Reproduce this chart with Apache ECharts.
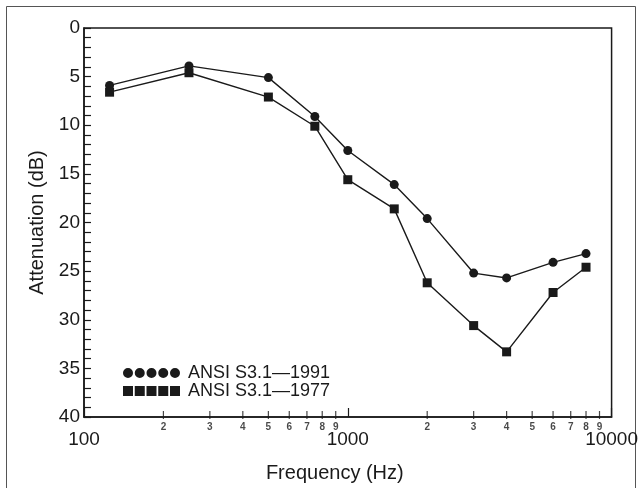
<!DOCTYPE html>
<html>
<head>
<meta charset="utf-8">
<script src="https://cdn.jsdelivr.net/npm/echarts@6/dist/echarts.min.js"></script>
<style>
html,body{margin:0;padding:0;background:#fff;}
#chart{width:641px;height:488px;}
</style>
</head>
<body>
<div id="chart"></div>
<script>
// Frequencies (Hz)
var frequencies = [125, 250, 500, 750, 1000, 1500, 2000, 3000, 4000, 6000, 8000];
// Attenuation (dB)
var ansi1991 = [5.9, 3.9, 5.1, 9.1, 12.6, 16.1, 19.6, 25.2, 25.7, 24.1, 23.2];
var ansi1977 = [6.6, 4.6, 7.1, 10.1, 15.6, 18.6, 26.2, 30.6, 33.3, 27.2, 24.6];
// Axis tick labels
var yTickLabels = [0, 5, 10, 15, 20, 25, 30, 35, 40];
var xMajorLabels = [100, 1000, 10000];
var decades = [100, 1000];
var minorDigits = [2, 3, 4, 5, 6, 7, 8, 9];

var seriesNames = ['ANSI S3.1\u20141991', 'ANSI S3.1\u20141977'];

function zip(xs, ys) { return xs.map(function (x, i) { return [x, ys[i]]; }); }

var minorTicks = [];
decades.forEach(function (d) {
  minorDigits.forEach(function (k) { minorTicks.push({ value: [d * k, 40], digit: k }); });
});

// legend icon paths (57 x 10)
function circlesPath() {
  var p = '';
  for (var i = 0; i < 5; i++) {
    var x = i * 11.75;
    p += 'M' + x + ',5a5,5 0 1,0 10,0a5,5 0 1,0 -10,0Z';
  }
  return 'path://' + p;
}
function squaresPath() {
  var p = '';
  for (var i = 0; i < 5; i++) {
    var x = i * 11.75;
    p += 'M' + x + ',0h10v10h-10Z';
  }
  return 'path://' + p;
}

var FONT = '"Liberation Sans", Arial, sans-serif';
var INK = '#1a1a1a';

var chart = echarts.init(document.getElementById('chart'), null, { renderer: 'canvas' });
chart.setOption({
  backgroundColor: '#fff',
  animation: false,
  textStyle: { fontFamily: FONT, color: INK },
  graphic: [{
    type: 'rect', silent: true,
    shape: { x: 6.5, y: 6.5, width: 629, height: 492 },
    style: { fill: 'none', stroke: '#555', lineWidth: 1 }
  }],
  grid: {
    left: 84, right: 24, top: 28, bottom: 61,
    show: true, borderColor: INK, borderWidth: 1.5, backgroundColor: 'transparent'
  },
  legend: {
    orient: 'vertical',
    left: 118, top: 359,
    itemWidth: 57, itemHeight: 10, itemGap: 0,
    textStyle: { fontFamily: FONT, fontSize: 18, color: INK, padding: [0, 0, 0, 3] },
    data: [
      { name: seriesNames[0], icon: circlesPath() },
      { name: seriesNames[1], icon: squaresPath() }
    ]
  },
  xAxis: {
    type: 'log', logBase: 10, min: 100, max: 10000,
    name: 'Frequency (Hz)', nameLocation: 'middle', nameGap: 46,
    nameTextStyle: { fontFamily: FONT, fontSize: 20, color: INK, padding: [0, 26, 0, 0] },
    axisLine: { onZero: false, lineStyle: { color: INK, width: 1.5 } },
    axisTick: { inside: true, length: 9, lineStyle: { color: INK, width: 1.2 } },
    axisLabel: {
      fontFamily: FONT, fontSize: 19, color: INK, margin: 13,
      formatter: function (v) { return xMajorLabels.indexOf(Math.round(v)) >= 0 ? String(Math.round(v)) : ''; }
    },
    splitLine: { show: false }
  },
  yAxis: {
    type: 'value', inverse: true, min: 0, max: 40, interval: 1,
    name: 'Attenuation (dB)', nameLocation: 'middle', nameGap: 23,
    nameTextStyle: { fontFamily: FONT, fontSize: 20, color: INK },
    axisLine: { onZero: false, lineStyle: { color: INK, width: 1.5 } },
    axisTick: { inside: true, length: 7, lineStyle: { color: INK, width: 1.2 } },
    axisLabel: {
      fontFamily: FONT, fontSize: 19, color: INK, margin: 4,
      formatter: function (v) { return yTickLabels.indexOf(v) >= 0 ? String(v) : ''; }
    },
    splitLine: { show: false }
  },
  series: [
    {
      name: seriesNames[0], type: 'line', data: zip(frequencies, ansi1991),
      symbol: 'circle', symbolSize: 9,
      itemStyle: { color: INK },
      lineStyle: { color: INK, width: 1.4 }
    },
    {
      name: seriesNames[1], type: 'line', data: zip(frequencies, ansi1977),
      symbol: 'rect', symbolSize: 9,
      itemStyle: { color: INK },
      lineStyle: { color: INK, width: 1.4 }
    },
    {
      name: 'minorTicks', type: 'scatter', data: minorTicks,
      symbol: 'rect', symbolSize: [1.2, 8], symbolOffset: [0, -2],
      itemStyle: { color: INK }, silent: true, clip: false,
      label: {
        show: true, position: 'bottom', distance: 3,
        formatter: function (p) { return String(p.data.digit); },
        fontFamily: FONT, fontSize: 10, fontWeight: 'bold', color: INK
      }
    }
  ]
});
</script>
</body>
</html>
